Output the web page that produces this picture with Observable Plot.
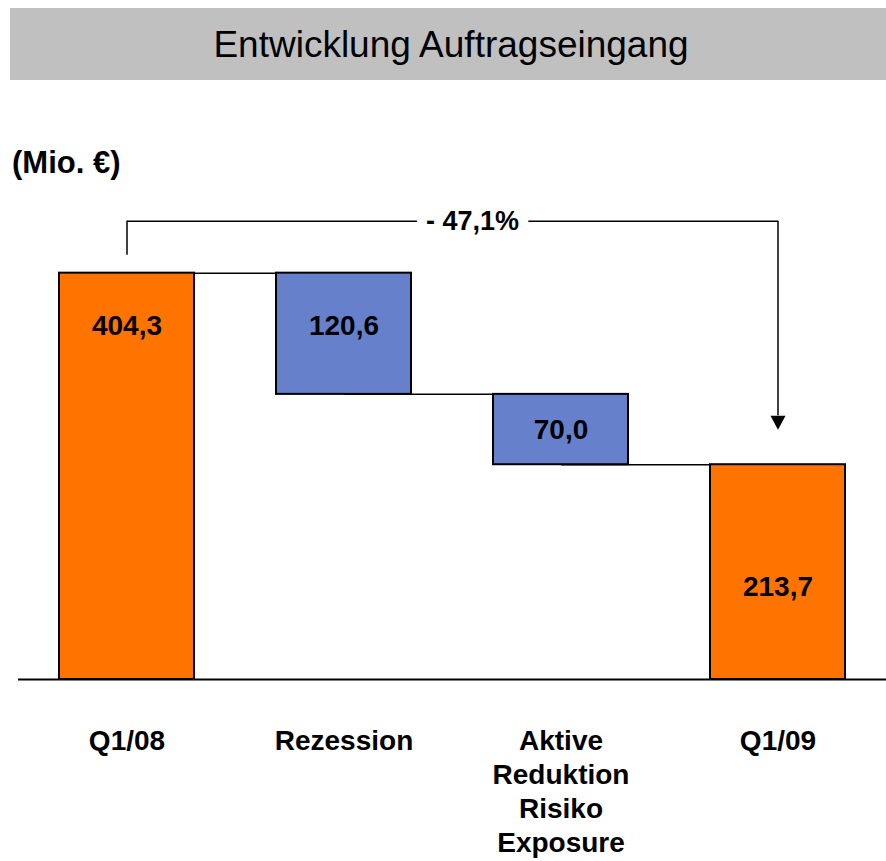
<!DOCTYPE html>
<html><head><meta charset="utf-8">
<script src="https://cdn.jsdelivr.net/npm/d3@7"></script>
<script src="https://cdn.jsdelivr.net/npm/@observablehq/plot@0.6"></script>
<style>
body{margin:0;background:#fff;font-family:"Liberation Sans",Arial,sans-serif;}
#wrap{position:relative;width:886px;height:861px;overflow:hidden;}
#title{position:absolute;left:10px;top:8px;width:876px;height:72px;background:#c0c0c0;display:flex;align-items:center;justify-content:center;font-size:37px;color:#000;}
#title span{position:relative;left:3px;top:1px;}
#unit{position:absolute;left:12px;top:145px;font-weight:bold;font-size:31px;color:#000;}
#chart{position:absolute;left:0;top:80px;}
</style></head>
<body><div id="wrap"><div id="title"><span>Entwicklung Auftragseingang</span></div><div id="unit">(Mio. €)</div><div id="chart"></div></div>
<script>
const categories = ["Q1/08", "Rezession", "Aktive\nReduktion\nRisiko\nExposure", "Q1/09"];
const values = [404.3, -120.6, -70.0, 213.7];
const kinds = ["total", "delta", "delta", "total"];
const changeLabel = "- 47,1%";

const colorTotal = "#ff7300";
const colorDelta = "#6680cc";

// build waterfall rows
let level = 0;
const bars = categories.map((cat, i) => {
  let lo, hi;
  if (kinds[i] === "total") { lo = 0; hi = values[i]; level = values[i]; }
  else { hi = level; lo = level + values[i]; level = lo; }
  return {i, cat, lo, hi, level, mid: (lo + hi) / 2, label: Math.abs(values[i]).toFixed(1).replace(".", ","), kind: kinds[i]};
});
const connectors = bars.slice(0, -1).map((b, i) => ({c1: b.cat, c2: bars[i + 1].cat, y: b.level}));
const first = bars[0], last = bars[bars.length - 1];

const downTriangle = {
  draw(ctx, size) {
    const r = Math.sqrt(size / Math.PI);
    const h = r * 0.93;
    ctx.moveTo(-r, -h); ctx.lineTo(r, -h); ctx.lineTo(0, h); ctx.closePath();
  }
};

const bold = {fontWeight: "bold", fontSize: 28, fill: "#000"};

const chart = Plot.plot({
  width: 886,
  height: 781,
  marginLeft: 18,
  marginRight: 0,
  marginTop: 0,
  marginBottom: 182,
  style: {fontFamily: "'Liberation Sans', Arial, sans-serif", background: "transparent", overflow: "visible"},
  x: {domain: categories, paddingInner: 0.379, paddingOuter: 0.185, axis: null},
  y: {domain: [0, 596], axis: null},
  marks: [
    // connectors between bars
    Plot.link(connectors, {x1: "c1", x2: "c2", y1: "y", y2: "y", stroke: "#000", strokeWidth: 1.5}),
    // bars
    Plot.barY(bars, {x: "cat", y1: "lo", y2: "hi", fill: d => d.kind === "total" ? colorTotal : colorDelta, stroke: "#000", strokeWidth: 2}),
    // baseline
    Plot.ruleY([0], {stroke: "#000", strokeWidth: 2}),
    // bracket
    Plot.link([first], {x1: () => first.cat, x2: () => last.cat, y1: "hi", y2: "hi", dy: -52, stroke: "#000", strokeWidth: 1.5}),
    Plot.ruleX([first], {x: "cat", y1: "hi", y2: "hi", insetTop: -52, insetBottom: 18, stroke: "#000", strokeWidth: 1.5}),
    Plot.ruleX([last], {x: "cat", y1: () => first.hi, y2: "hi", insetTop: -52, insetBottom: 49, stroke: "#000", strokeWidth: 1.5}),
    Plot.dot([last], {x: "cat", y: "hi", dy: -42, r: 7.5, symbol: downTriangle, fill: "#000", stroke: "none"}),
    Plot.text([changeLabel], {y: () => first.hi, dy: -52, dx: 20, text: d => d, fontWeight: "bold", fontSize: 27, fill: "#000", stroke: "#fff", strokeWidth: 20, paintOrder: "stroke"}),
    // value labels
    Plot.text(bars, {filter: d => d.i < 2, x: "cat", y: "hi", dy: 53, text: "label", ...bold}),
    Plot.text(bars, {filter: d => d.i === 2, x: "cat", y: "mid", text: "label", ...bold}),
    Plot.text(bars, {filter: d => d.i === 3, x: "cat", y: "hi", dy: 122, text: "label", ...bold}),
    // category labels
    Plot.text(bars, {x: "cat", y: () => 0, dy: 46, lineAnchor: "top", lineHeight: 1.22, text: "cat", ...bold})
  ]
});
document.getElementById("chart").appendChild(chart);
</script>
</body></html>
